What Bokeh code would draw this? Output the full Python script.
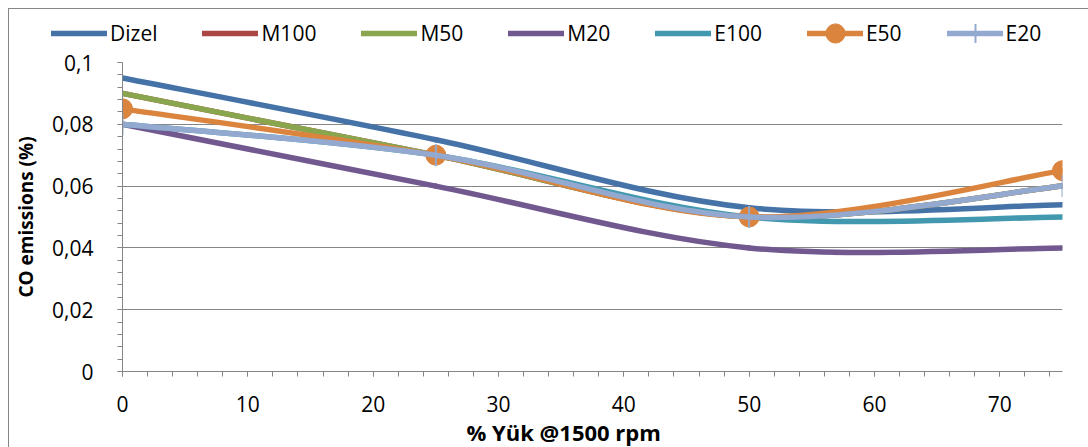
from bokeh.plotting import figure
from bokeh.layouts import column
from bokeh.models import (FixedTicker, Legend, LegendItem, Title,
                          ColumnDataSource, Range1d)
from bokeh.embed import file_html
from bokeh.resources import INLINE

# ---- data ----
loads = [0, 25, 50, 75]
series_names = ["Dizel", "M100", "M50", "M20", "E100", "E50", "E20"]
dizel = [0.095, 0.075, 0.053, 0.054]
m100 = [0.090, 0.070, 0.050, 0.060]
m50 = [0.090, 0.070, 0.050, 0.060]
m20 = [0.080, 0.060, 0.040, 0.040]
e100 = [0.080, 0.070, 0.050, 0.050]
e50 = [0.085, 0.070, 0.050, 0.065]
e20 = [0.080, 0.070, 0.050, 0.060]
series_values = [dizel, m100, m50, m20, e100, e50, e20]
colors = ["#4572A7", "#AA4643", "#89A54E", "#71588F", "#4198AF", "#DB843D", "#93A9CF"]

x_ticks = [0, 10, 20, 30, 40, 50, 60, 70]
x_minor = list(range(0, 76, 2))
y_ticks = [0, 0.02, 0.04, 0.06, 0.08, 0.1]
y_tick_labels = ["0", "0,02", "0,04", "0,06", "0,08", "0,1"]
y_minor = [i * 0.004 for i in range(26)]
x_title = "% Yük @1500 rpm"
y_title = "CO emissions (%)"

FONT = "Open Sans"

# ---------------- main chart ----------------
p = figure(width=1079, height=397, output_backend="svg", toolbar_location=None,
           x_range=Range1d(0, 75), y_range=Range1d(0, 0.1),
           min_border_left=113, min_border_right=26, min_border_top=12,
           min_border_bottom=76)
p.background_fill_color = "white"
p.border_fill_color = "white"
p.outline_line_color = None

p.xaxis.ticker = FixedTicker(ticks=x_ticks, minor_ticks=x_minor)
p.yaxis.ticker = FixedTicker(ticks=y_ticks, minor_ticks=y_minor)
p.yaxis.major_label_overrides = {t: l for t, l in zip(y_ticks, y_tick_labels)}
for ax in (p.xaxis, p.yaxis):
    ax.axis_line_color = "#868686"
    ax.major_tick_line_color = "#868686"
    ax.minor_tick_line_color = "#868686"
    ax.major_tick_out = 5
    ax.major_tick_in = 0
    ax.minor_tick_out = 5
    ax.minor_tick_in = 0
    ax.major_label_text_font = FONT
    ax.major_label_text_font_size = "21px"
    ax.major_label_text_color = "black"
    ax.axis_label_text_font = FONT
    ax.axis_label_text_font_size = "19px"
    ax.axis_label_text_font_style = "bold"
    ax.axis_label_text_color = "black"
p.yaxis.axis_label = y_title
p.xaxis.major_label_standoff = 19
p.yaxis.major_label_standoff = 24
p.yaxis.axis_label_standoff = 10

xt = Title(text=x_title, align="left", offset=344, standoff=0,
           text_font=FONT, text_font_size="22px", text_font_style="bold",
           text_color="black")
p.add_layout(xt, "below")

p.xgrid.grid_line_color = None
p.ygrid.grid_line_color = "#868686"
p.ygrid.grid_line_width = 1


def smooth_segments(xs, ys):
    """Bezier control points (Excel-like smoothed line) from the data points."""
    n = len(xs)
    out = dict(x0=[], y0=[], x1=[], y1=[], cx0=[], cy0=[], cx1=[], cy1=[])
    for i in range(n - 1):
        a = max(i - 1, 0)
        d = min(i + 2, n - 1)
        out["x0"].append(xs[i]); out["y0"].append(ys[i])
        out["x1"].append(xs[i + 1]); out["y1"].append(ys[i + 1])
        out["cx0"].append(xs[i] + (xs[i + 1] - xs[a]) / 6)
        out["cy0"].append(ys[i] + (ys[i + 1] - ys[a]) / 6)
        out["cx1"].append(xs[i + 1] - (xs[d] - xs[i]) / 6)
        out["cy1"].append(ys[i + 1] - (ys[d] - ys[i]) / 6)
    return out


for name, vals, col in zip(series_names, series_values, colors):
    src = ColumnDataSource(smooth_segments(loads, vals))
    p.bezier(x0="x0", y0="y0", x1="x1", y1="y1", cx0="cx0", cy0="cy0",
             cx1="cx1", cy1="cy1", source=src, line_color=col,
             line_width=5.5, line_cap="round")
    if name == "E50":
        p.scatter(loads, vals, marker="circle", size=20, fill_color=col,
                  line_color=col)
    if name == "E20":
        p.scatter(loads, vals, marker="cross", size=22, line_color=col,
                  line_width=2)

# ---------------- legend strip ----------------
lg = figure(width=1079, height=41, output_backend="svg", toolbar_location=None,
            x_axis_type=None, y_axis_type=None, x_range=Range1d(0, 1),
            y_range=Range1d(0, 1), min_border=0)
try:
    lg.frame_align = False
except Exception:
    pass
lg.outline_line_color = None
lg.grid.visible = False
lg.background_fill_color = "white"
lg.border_fill_color = "white"

# legend sample renderers (kept outside the visible range of the strip)
off = [5]
items = []
for name, col in zip(series_names, colors):
    rs = [lg.line(x=off, y=off, line_color=col, line_width=5.5, line_cap="round")]
    if name == "E50":
        rs.append(lg.scatter(x=off, y=off, marker="circle", size=20,
                             fill_color=col, line_color=col))
    if name == "E20":
        rs.append(lg.scatter(x=off, y=off, marker="cross", size=20,
                             line_color=col, line_width=2))
    items.append(LegendItem(label=name, renderers=rs))

legend = Legend(items=items, orientation="horizontal", location=(42, -7),
                glyph_width=56, glyph_height=48, label_standoff=3, spacing=45,
                padding=0, margin=0, border_line_color=None,
                background_fill_alpha=0,
                label_text_font=FONT, label_text_font_size="21px",
                label_text_color="black")
lg.add_layout(legend, "center")

layout = column(lg, p, spacing=0)
layout.margin = (9, 0, 0, 9)
layout.styles = {"outline": "1.5px solid #868686"}

open("out.html", "w").write(file_html(layout, INLINE))
